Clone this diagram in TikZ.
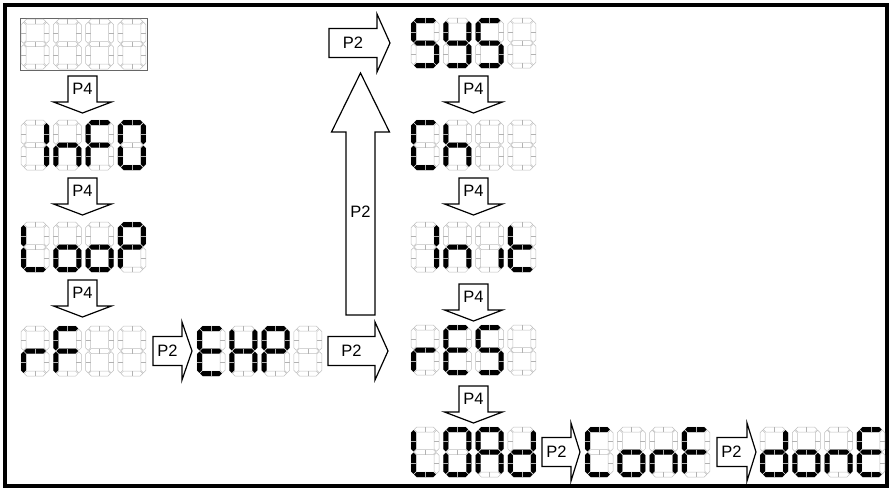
\documentclass[tikz,border=0pt]{standalone}
\usepackage{fontspec}
\setmainfont{Liberation Sans}
\usetikzlibrary{calc}
\tikzset{
	segoff/.style={draw=black!25, line width=0.5pt},
	segon/.style={fill=black},
	segtick/.style={draw=black!30, line width=0.5pt},
	parrow/.style={draw=black, fill=white, line width=1.2pt, line join=miter},
	plabel/.style={font=\fontsize{16.5}{16.5}\selectfont, inner sep=0pt},
}
% one digit is 28 wide and 50 high, y runs downwards
\def\sga{(3.2,2.5) -- (5.7,0) -- (22.3,0) -- (24.8,2.5) -- (22.3,5) -- (5.7,5) -- cycle}
\def\sgg{(3.2,25) -- (5.7,22.5) -- (22.3,22.5) -- (24.8,25) -- (22.3,27.5) -- (5.7,27.5) -- cycle}
\def\sgd{(3.2,47.5) -- (5.7,45) -- (22.3,45) -- (24.8,47.5) -- (22.3,50) -- (5.7,50) -- cycle}
\def\sgf{(2.5,3.2) -- (5,5.7) -- (5,21.8) -- (2.5,24.3) -- (0,21.8) -- (0,5.7) -- cycle}
\def\sge{(2.5,25.7) -- (5,28.2) -- (5,44.3) -- (2.5,46.8) -- (0,44.3) -- (0,28.2) -- cycle}
\def\sgb{(25.5,3.2) -- (28,5.7) -- (28,21.8) -- (25.5,24.3) -- (23,21.8) -- (23,5.7) -- cycle}
\def\sgc{(25.5,25.7) -- (28,28.2) -- (28,44.3) -- (25.5,46.8) -- (23,44.3) -- (23,28.2) -- cycle}
\def\sgx{(0,0)}
\def\digit(#1)#2{%
	\begin{scope}[shift={(#1)}]
		\foreach \s in {a,b,c,d,e,f,g} \draw[segoff] \csname sg\s\endcsname;
		\foreach \s in {#2} \fill[segon] \csname sg\s\endcsname;
		\draw[segtick] (14,0) -- (14,5) (14,22.5) -- (14,27.5) (14,45) -- (14,50)
			(0,13.75) -- (5,13.75) (0,36.25) -- (5,36.25)
			(23,13.75) -- (28,13.75) (23,36.25) -- (28,36.25);
	\end{scope}}
\def\display(#1,#2)#3#4#5#6{\digit(#1,#2){#3}\digit(#1+32.3,#2){#4}\digit(#1+64.6,#2){#5}\digit(#1+96.9,#2){#6}}
\def\blockarrow[#1](#2)(#3:#4:#5){%
	\begin{scope}[shift={(#2)}, rotate=#3]
		\draw[#1] (0,-14.5) -- (#4-#5,-14.5) -- (#4-#5,-29) -- (#4,0) -- (#4-#5,29) -- (#4-#5,14.5) -- (0,14.5) -- cycle;
	\end{scope}}

\begin{document}
\begin{tikzpicture}[x=1pt, y=-1pt]
			%%%%% START %%%%%
			\useasboundingbox (0,0) rectangle (892,490);
			\draw[line width=3.5pt] (5,5) rectangle (887,486);
			
			% left column
			\draw[black!60, line width=0.7pt] (20,18) rectangle (147,70);
			\display(21,19){x}{x}{x}{x}
			\display(21,120){b,c}{c,e,g}{a,e,f,g}{a,b,c,d,e,f}
			\display(21,222){d,e,f}{c,d,e,g}{c,d,e,g}{a,b,e,f,g}
			\display(21,326){e,g}{a,e,f,g}{x}{x}
			\display(197,326){a,d,e,f,g}{b,c,e,f,g}{a,b,e,f,g}{x}
			
			% right column
			\display(411,18){a,c,d,f,g}{b,c,d,f,g}{a,c,d,f,g}{x}
			\display(411,120){a,d,e,f}{c,e,f,g}{x}{x}
			\display(411,222){b,c}{c,e,g}{c}{d,e,f,g}
			\display(411,325){e,g}{a,d,e,f,g}{a,c,d,f,g}{x}
			\display(411,427){d,e,f}{a,b,c,d,e,f}{a,b,c,e,f,g}{b,c,d,e,g}
			\display(585,427){a,d,e,f}{c,d,e,g}{c,e,g}{a,e,f,g}
			\display(760,427){b,c,d,e,g}{c,d,e,g}{c,e,g}{a,d,e,f,g}
			
			% P4 steps
			\blockarrow[parrow](82.5,76)(-90:37:11);
			\node[plabel] (p4info) at (82.5,89) {P4};
			\blockarrow[parrow](82.5,178)(-90:37:11);
			\node[plabel] (p4loop) at (82.5,191) {P4};
			\blockarrow[parrow](82.5,280)(-90:37:11);
			\node[plabel] (p4rf) at (82.5,293) {P4};
			\blockarrow[parrow](473.5,76)(-90:37:11);
			\node[plabel] (p4ch) at (473.5,89) {P4};
			\blockarrow[parrow](473.5,178)(-90:37:11);
			\node[plabel] (p4init) at (473.5,191) {P4};
			\blockarrow[parrow](473.5,284)(-90:37:11);
			\node[plabel] (p4res) at (473.5,297) {P4};
			\blockarrow[parrow](473.5,386)(-90:37:11);
			\node[plabel] (p4load) at (473.5,399) {P4};
			
			% P2 steps
			\blockarrow[parrow](153,351)(0:39:10);
			\node[plabel] (p2ehp) at (167.5,351) {P2};
			\blockarrow[parrow](328,351)(0:60:13);
			\node[plabel] (p2res) at (351.5,351) {P2};
			\blockarrow[parrow](360.5,315)(90:242:59);
			\node[plabel] (p2up) at (360.5,212) {P2};
			\blockarrow[parrow](329,43)(0:61:13);
			\node[plabel] (p2sys) at (353,43) {P2};
			\blockarrow[parrow](542,452)(0:38:9);
			\node[plabel] (p2conf) at (556.5,452) {P2};
			\blockarrow[parrow](717,452)(0:39:9);
			\node[plabel] (p2done) at (731.5,452) {P2};
			%%%%% END %%%%%
\end{tikzpicture}
\end{document}
